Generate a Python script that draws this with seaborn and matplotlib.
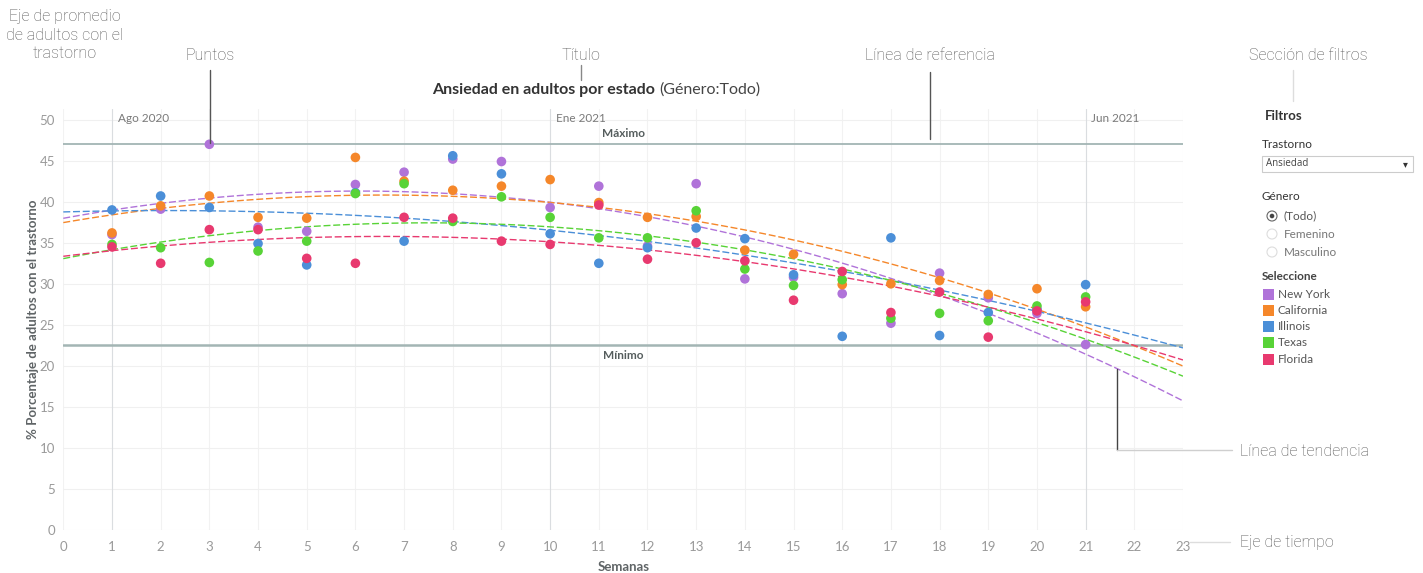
import matplotlib
matplotlib.use("Agg")
import matplotlib.pyplot as plt
from matplotlib.patches import Rectangle, Circle
import seaborn as sns
import pandas as pd
import numpy as np

# ---------------- data ----------------
weeks = list(range(1, 22))
states = ["New York", "California", "Illinois", "Texas", "Florida"]
new_york   = [36.0, 39.1, 47.0, 36.9, 36.4, 42.1, 43.6, 45.2, 44.9, 39.3, 41.9,
              34.6, 42.2, 30.6, 30.8, 28.8, 25.2, 31.3, 28.3, 26.4, 22.6]
california = [36.2, 39.5, 40.7, 38.1, 38.0, 45.4, 42.5, 41.4, 41.9, 42.7, 39.9,
              38.1, 38.2, 34.1, 33.6, 29.9, 30.0, 30.4, 28.7, 29.4, 27.2]
illinois   = [39.0, 40.7, 39.3, 34.9, 32.3, 41.1, 35.2, 45.6, 43.4, 36.1, 32.5,
              34.4, 36.8, 35.5, 31.1, 23.6, 35.6, 23.7, 26.5, 26.9, 29.9]
texas      = [34.8, 34.4, 32.6, 34.0, 35.2, 41.0, 42.2, 37.6, 40.6, 38.1, 35.6,
              35.6, 38.9, 31.8, 29.8, 30.5, 25.8, 26.4, 25.5, 27.3, 28.4]
florida    = [34.5, 32.5, 36.6, 36.6, 33.1, 32.5, 38.1, 38.0, 35.2, 34.8, 39.6,
              33.0, 35.0, 32.8, 28.0, 31.5, 26.5, 29.0, 23.5, 26.7, 27.8]
series = [new_york, california, illinois, texas, florida]
colors = ["#b073d9", "#f5872a", "#4b8fd8", "#58d337", "#e8396f"]
month_weeks = [1, 10, 21]
month_labels = ["Ago 2020", "Ene 2021", "Jun 2021"]
x_ticks = list(range(0, 24))
y_ticks = list(range(0, 51, 5))

df = pd.DataFrame({
    "Semana": weeks * len(states),
    "Valor": sum(series, []),
    "Estado": [s for s in states for _ in weeks],
})
palette = dict(zip(states, colors))
max_val = df["Valor"].max()
min_val = df["Valor"].min()

# ---------------- figure ----------------
W, H = 1423, 573
fig = plt.figure(figsize=(W / 100, H / 100), dpi=100)
fig.patch.set_facecolor("white")
sns.set_style("white")
plt.rcParams["font.family"] = ["Lato", "DejaVu Sans"]

left, right, bottom, top = 63.3, 1183, 530, 109
ax = fig.add_axes([left / W, 1 - bottom / H, (right - left) / W, (bottom - top) / H])
ax.set_xlim(0, 23)
ax.set_ylim(0, 51.3)

# grid
for x in x_ticks:
    ax.axvline(x, color="#f2f2f2", lw=0.8, zorder=0)
for y in y_ticks:
    ax.axhline(y, color="#f0f0f0", lw=0.8, zorder=0)
for mw, ml in zip(month_weeks, month_labels):
    ax.axvline(mw, color="#dadde0", lw=0.8, zorder=1)
    ax.annotate(ml, xy=(mw, 51.3), xytext=(4, -3), textcoords="offset points",
                ha="left", va="top", fontsize=8.5, color="#7a7a7a")

# reference lines
ax.axhline(max_val, color="#a3b5b4", lw=1.3, zorder=2)
ax.axhline(min_val, color="#a3b5b4", lw=1.8, zorder=2)
ax.annotate("Máximo", xy=(11.5, max_val), xytext=(0, 4), textcoords="offset points",
            ha="center", va="bottom", fontsize=8.5, fontweight="bold", color="#555d5d")
ax.annotate("Mínimo", xy=(11.5, min_val), xytext=(0, -4), textcoords="offset points",
            ha="center", va="top", fontsize=8.5, fontweight="bold", color="#555d5d")

# points
sns.scatterplot(data=df, x="Semana", y="Valor", hue="Estado", palette=palette,
                s=48, edgecolor="none", legend=False, ax=ax, zorder=4)

# polynomial trend lines
for st in states:
    sub = df[df["Estado"] == st]
    sns.regplot(data=sub, x="Semana", y="Valor", order=2, ci=None, scatter=False,
                truncate=False, ax=ax, color=palette[st],
                line_kws=dict(lw=1.0, ls=(0, (5, 2)), zorder=3))

ax.set_xlim(0, 23)
ax.set_ylim(0, 51.3)
ax.set_xticks(x_ticks)
ax.set_yticks(y_ticks)
ax.tick_params(axis="both", length=0, labelsize=9.5, labelcolor="#9a9a9a")
ax.tick_params(axis="y", pad=6)
ax.tick_params(axis="x", pad=8)
for s in ax.spines.values():
    s.set_visible(False)
ax.set_xlabel("Semanas", fontsize=9.5, fontweight="bold", color="#5f6466", labelpad=6)
ax.set_ylabel("% Porcentaje de adultos con el trastorno", fontsize=9.5,
              fontweight="bold", color="#5f6466", labelpad=0)

# ---------------- overlay in pixel coordinates ----------------
ov = fig.add_axes([0, 0, 1, 1], facecolor="none")
ov.set_xlim(0, W)
ov.set_ylim(H, 0)
ov.axis("off")
ov.set_zorder(10)

ann = dict(family=["Roboto", "DejaVu Sans"], fontweight="light", color="#555555", fontsize=11.5)

# title
renderer = fig.canvas.get_renderer()
t1 = ov.text(432, 90, "Ansiedad en adultos por estado", fontsize=11.5, fontweight="bold",
             color="#333333", ha="left", va="center")
bb = t1.get_window_extent(renderer=renderer)
x_end = bb.x1
ov.text(x_end + 4, 90, "(Género:Todo)", fontsize=11.5, color="#444444",
        ha="left", va="center")

# annotation callouts
ov.text(65, 35, "Eje de promedio\nde adultos con el\ntrastorno", ha="center", va="center",
        linespacing=1.3, **ann)
ov.text(210, 55, "Puntos", ha="center", va="center", **ann)
ov.plot([210, 210], [70, 143], color="#555555", lw=1.0)
ov.text(581, 55, "Título", ha="center", va="center", **ann)
ov.plot([581, 581], [65, 80], color="#888888", lw=1.0)
ov.text(930, 55, "Línea de referencia", ha="center", va="center", **ann)
ov.plot([930, 930], [72, 139], color="#555555", lw=1.0)
ov.text(1308, 55, "Sección de filtros", ha="center", va="center", **ann)
ov.plot([1293, 1293], [70, 101], color="#dddddd", lw=1.0)
ov.plot([1117, 1117], [369, 450], color="#444444", lw=1.0)
ov.plot([1117, 1232], [450, 450], color="#cfcfcf", lw=1.0)
ov.text(1240, 452, "Línea de tendencia", ha="left", va="center", **ann)
ov.plot([1190, 1230], [542, 542], color="#dddddd", lw=1.0)
ov.text(1240, 542, "Eje de tiempo", ha="left", va="center", **ann)

# filter panel
ov.text(1265, 116, "Filtros", fontsize=9.5, fontweight="bold", color="#333333", va="center")
ov.text(1262, 145, "Trastorno", fontsize=8.5, color="#333333", va="center")
ov.add_patch(Rectangle((1262, 156), 151, 16, facecolor="white", edgecolor="#cccccc", lw=0.8))
ov.text(1266, 164, "Ansiedad", fontsize=7, color="#444444", va="center",
        family=["Open Sans", "DejaVu Sans"])
ov.text(1405, 164, "▾", fontsize=7, color="#333333", va="center", ha="center",
        family="DejaVu Sans")
ov.text(1262, 197, "Género", fontsize=8.5, color="#333333", va="center")
for i, lab in enumerate(["(Todo)", "Femenino", "Masculino"]):
    yy = 216 + 18 * i
    ov.add_patch(Circle((1272, yy), 5, facecolor="white",
                        edgecolor="#666666" if i == 0 else "#dddddd", lw=0.8))
    if i == 0:
        ov.add_patch(Circle((1272, yy), 2.3, facecolor="#444444", edgecolor="none"))
    ov.text(1284, yy, lab, fontsize=8.5, color="#555555" if i == 0 else "#777777",
            va="center")
ov.text(1262, 277, "Seleccione", fontsize=8.5, fontweight="bold", color="#444444", va="center")
for i, (st, col) in enumerate(zip(states, colors)):
    yy = 294 + 16.3 * i
    ov.add_patch(Rectangle((1263, yy - 5.5), 10.5, 11, facecolor=col, edgecolor="none"))
    ov.text(1278, yy, st, fontsize=8.5, color="#555555", va="center")

fig.savefig("out.png", dpi=100, facecolor="white")
